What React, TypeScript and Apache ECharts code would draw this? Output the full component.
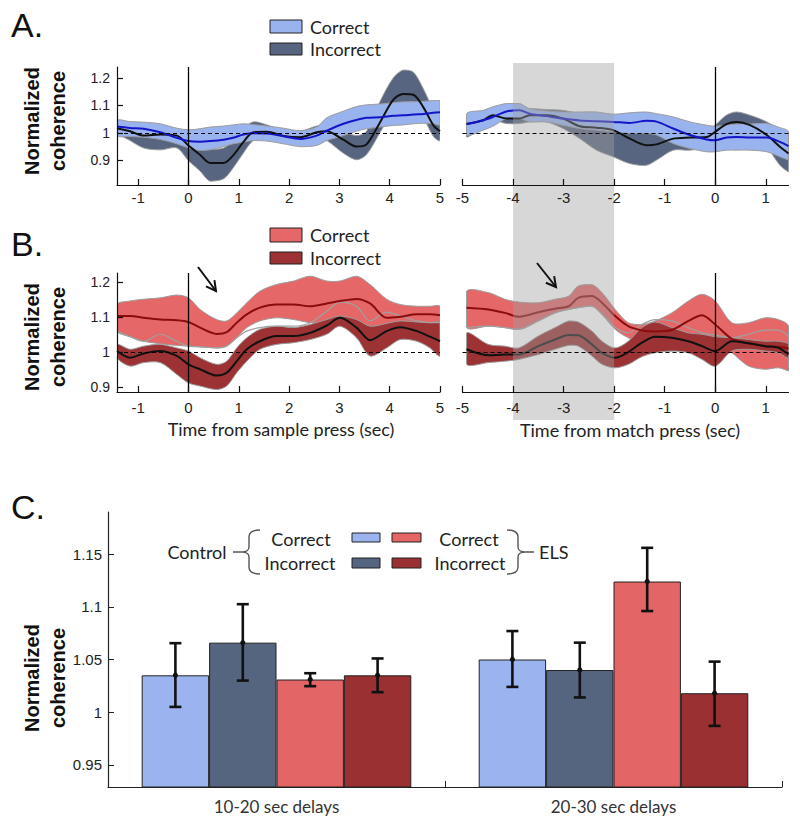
import React, { useEffect, useRef } from "react";
import * as echarts from "echarts";

// ---------- Panel A, left: time from sample press ----------
const aLeftX = [-1.42, -1.16, -0.89, -0.56, -0.23, 0, 0.23, 0.43, 0.7, 0.89, 1.09, 1.29, 1.56, 1.89, 2.22, 2.55, 2.75, 3.08, 3.34, 3.54, 3.81, 4.07, 4.27, 4.47, 4.67, 4.87, 5.0];
const aLeftCorrMean = [1.023, 1.018, 1.015, 1.002, 0.982, 0.97, 0.968, 0.97, 0.975, 0.982, 0.994, 0.999, 0.998, 0.988, 0.978, 0.99, 1.008, 1.033, 1.047, 1.055, 1.057, 1.062, 1.064, 1.067, 1.069, 1.073, 1.075];
const aLeftCorrHi = [1.045, 1.041, 1.039, 1.033, 1.017, 1.011, 1.015, 1.021, 1.025, 1.029, 1.033, 1.03, 1.025, 1.017, 1.008, 1.021, 1.055, 1.079, 1.096, 1.102, 1.105, 1.11, 1.113, 1.113, 1.115, 1.118, 1.118];
const aLeftCorrLo = [0.99, 0.987, 0.984, 0.976, 0.96, 0.945, 0.936, 0.938, 0.95, 0.96, 0.966, 0.972, 0.97, 0.96, 0.95, 0.954, 0.972, 0.99, 1.006, 1.015, 1.021, 1.027, 1.029, 1.033, 1.035, 1.033, 1.03];
const aLeftIncMean = [1.017, 1.006, 0.99, 0.994, 0.99, 0.954, 0.92, 0.89, 0.89, 0.918, 0.966, 1.002, 1.004, 0.989, 0.984, 1.002, 1.006, 0.975, 0.95, 0.958, 1.039, 1.12, 1.142, 1.139, 1.093, 1.027, 1.006];
const aLeftIncHi = [1.039, 1.033, 1.023, 1.015, 1.006, 0.99, 0.962, 0.942, 0.945, 0.972, 1.015, 1.04, 1.029, 1.008, 1.005, 1.025, 1.025, 1.006, 0.99, 1.006, 1.115, 1.2, 1.229, 1.221, 1.16, 1.081, 1.041];
const aLeftIncLo = [1.002, 0.972, 0.945, 0.938, 0.945, 0.899, 0.861, 0.824, 0.833, 0.873, 0.926, 0.972, 0.982, 0.972, 0.966, 0.982, 0.972, 0.926, 0.902, 0.921, 1.002, 1.081, 1.105, 1.112, 1.057, 0.987, 0.972];

// ---------- Panel A, right: time from match press ----------
const aRightX = [-4.92, -4.59, -4.4, -4.13, -3.87, -3.67, -3.34, -3.01, -2.68, -2.35, -2.02, -1.69, -1.36, -1.16, -0.83, -0.5, -0.17, 0, 0.22, 0.42, 0.69, 1.02, 1.28, 1.45];
const aRightCorrMean = [1.032, 1.046, 1.058, 1.078, 1.082, 1.07, 1.061, 1.052, 1.045, 1.042, 1.04, 1.036, 1.044, 1.041, 1.016, 0.992, 0.976, 0.973, 0.983, 0.985, 0.983, 0.983, 0.967, 0.952];
const aRightCorrHi = [1.07, 1.082, 1.095, 1.107, 1.107, 1.088, 1.08, 1.076, 1.076, 1.076, 1.068, 1.073, 1.076, 1.07, 1.058, 1.04, 1.028, 1.024, 1.028, 1.032, 1.032, 1.034, 1.019, 1.004];
const aRightCorrLo = [0.992, 1.01, 1.024, 1.052, 1.052, 1.04, 1.04, 1.028, 1.016, 1.01, 1.004, 0.998, 0.998, 0.992, 0.961, 0.943, 0.931, 0.931, 0.937, 0.937, 0.937, 0.931, 0.913, 0.901];
const aRightIncMean = [1.032, 1.046, 1.064, 1.052, 1.052, 1.064, 1.064, 1.052, 1.024, 1.019, 1.01, 0.979, 0.955, 0.958, 0.979, 0.983, 0.985, 1.004, 1.032, 1.04, 1.028, 0.992, 0.949, 0.925];
const aRightIncHi = [1.064, 1.07, 1.082, 1.076, 1.076, 1.088, 1.085, 1.082, 1.07, 1.064, 1.052, 1.028, 1.01, 1.004, 1.01, 1.004, 1.004, 1.028, 1.064, 1.076, 1.064, 1.04, 1.01, 0.998];
const aRightIncLo = [0.985, 1.028, 1.046, 1.034, 1.034, 1.04, 1.04, 1.016, 0.979, 0.937, 0.913, 0.888, 0.882, 0.901, 0.937, 0.937, 0.949, 0.979, 1.01, 1.016, 1.004, 0.949, 0.882, 0.858];

// ---------- Panel B, left ----------
const bLeftX = [-1.42, -1.16, -0.89, -0.56, -0.23, 0, 0.23, 0.56, 0.76, 0.96, 1.16, 1.42, 1.75, 2.09, 2.42, 2.75, 3.01, 3.34, 3.61, 3.94, 4.21, 4.54, 4.8, 5.0];
const bLeftCorrMean = [1.102, 1.102, 1.097, 1.092, 1.09, 1.085, 1.069, 1.051, 1.056, 1.083, 1.107, 1.126, 1.135, 1.135, 1.13, 1.138, 1.145, 1.151, 1.138, 1.097, 1.1, 1.107, 1.107, 1.104];
const bLeftCorrHi = [1.135, 1.145, 1.15, 1.154, 1.162, 1.154, 1.121, 1.092, 1.088, 1.111, 1.14, 1.173, 1.192, 1.202, 1.216, 1.202, 1.202, 1.216, 1.192, 1.15, 1.135, 1.13, 1.13, 1.13];
const bLeftCorrLo = [1.059, 1.043, 1.03, 1.023, 1.018, 1.016, 1.014, 1.011, 1.016, 1.04, 1.069, 1.088, 1.097, 1.092, 1.083, 1.083, 1.088, 1.083, 1.073, 1.059, 1.054, 1.059, 1.069, 1.078];
const bLeftIncMean = [1.002, 0.983, 0.995, 1.002, 0.988, 0.964, 0.95, 0.932, 0.94, 0.973, 1.007, 1.03, 1.045, 1.045, 1.054, 1.075, 1.097, 1.069, 1.033, 1.059, 1.07, 1.059, 1.043, 1.03];
const bLeftIncHi = [1.021, 1.007, 1.016, 1.021, 1.011, 1.002, 0.983, 0.964, 0.973, 1.011, 1.04, 1.064, 1.073, 1.069, 1.078, 1.092, 1.102, 1.092, 1.073, 1.081, 1.088, 1.085, 1.083, 1.083];
const bLeftIncLo = [0.983, 0.959, 0.969, 0.969, 0.935, 0.911, 0.902, 0.892, 0.902, 0.94, 0.973, 1.007, 1.021, 1.026, 1.035, 1.05, 1.073, 1.04, 0.988, 1.011, 1.035, 1.03, 1.011, 0.988];
const bLeftGray = [1.059, 1.043, 1.03, 1.05, 1.03, 1.016, 1.014, 1.011, 1.016, 1.04, 1.059, 1.069, 1.073, 1.073, 1.083, 1.116, 1.142, 1.13, 1.088, 1.113, 1.102, 1.088, 1.083, 1.083];

// ---------- Panel B, right ----------
const bRightX = [-4.92, -4.49, -4.16, -3.89, -3.5, -3.17, -2.9, -2.71, -2.44, -2.24, -1.98, -1.72, -1.45, -1.19, -0.86, -0.53, -0.26, 0, 0.33, 0.66, 0.99, 1.25, 1.45];
const bRightCorrMean = [1.126, 1.121, 1.111, 1.1, 1.113, 1.123, 1.13, 1.154, 1.159, 1.14, 1.102, 1.073, 1.061, 1.058, 1.062, 1.088, 1.104, 1.078, 1.037, 1.024, 1.016, 1.014, 1.009];
const bRightCorrHi = [1.173, 1.169, 1.15, 1.142, 1.14, 1.15, 1.159, 1.188, 1.192, 1.169, 1.121, 1.083, 1.078, 1.088, 1.111, 1.145, 1.164, 1.145, 1.083, 1.083, 1.097, 1.092, 1.073];
const bRightCorrLo = [1.069, 1.073, 1.069, 1.064, 1.088, 1.111, 1.121, 1.126, 1.13, 1.107, 1.064, 1.04, 1.026, 1.007, 1.002, 1.011, 1.026, 1.03, 0.997, 0.959, 0.95, 0.954, 0.945];
const bRightIncMean = [1.007, 0.99, 0.992, 0.992, 1.016, 1.035, 1.048, 1.047, 1.021, 0.997, 0.983, 0.999, 1.026, 1.043, 1.04, 1.03, 1.016, 1.002, 1.03, 1.024, 1.016, 1.011, 0.992];
const bRightIncHi = [1.054, 1.021, 1.016, 1.011, 1.045, 1.069, 1.088, 1.085, 1.059, 1.03, 1.011, 1.03, 1.069, 1.085, 1.069, 1.054, 1.05, 1.043, 1.04, 1.035, 1.03, 1.03, 1.021];
const bRightIncLo = [0.964, 0.969, 0.973, 0.978, 0.992, 1.007, 1.018, 1.016, 0.988, 0.964, 0.954, 0.964, 0.986, 0.997, 1.002, 0.997, 0.978, 0.959, 1.002, 1.007, 1.002, 0.997, 0.983];
const bRightGray = [1.069, 1.073, 1.069, 1.064, 1.088, 1.111, 1.121, 1.126, 1.13, 1.107, 1.069, 1.054, 1.078, 1.092, 1.088, 1.069, 1.054, 1.048, 1.04, 1.05, 1.062, 1.062, 1.045];

// ---------- Axes ticks ----------
const sampleTicks = [-1, 0, 1, 2, 3, 4, 5];
const matchTicks = [-5, -4, -3, -2, -1, 0, 1];
const lineYTicks = [0.9, 1, 1.1, 1.2];
const delayWindow = [-4, -2];

// ---------- Panel C ----------
const barCategories = ["10-20 sec delays", "20-30 sec delays"];
const ctrlCorrect = [1.035, 1.05];
const ctrlIncorrect = [1.066, 1.04];
const elsCorrect = [1.031, 1.124];
const elsIncorrect = [1.035, 1.018];
const ctrlCorrectErr = [[1.005, 1.0655], [1.024, 1.077]];
const ctrlIncorrectErr = [[1.03, 1.1025], [1.014, 1.066]];
const elsCorrectErr = [[1.0247, 1.037], [1.096, 1.156]];
const elsIncorrectErr = [[1.019, 1.051], [0.987, 1.048]];
const barYTicks = [0.95, 1, 1.05, 1.1, 1.15];

// ---------- colours ----------
const C_LBLUE = "#98B3EE";
const C_SLATE = "#586580";
const C_RED = "#E66767";
const C_DRED = "#9C3234";
const BAR_LBLUE = "#9BB3EF";
const BAR_SLATE = "#56657F";
const BAR_RED = "#E46565";
const BAR_DRED = "#9B3032";

const SANS = '"Liberation Sans", Arial, sans-serif';
const CAL = 'Lato, "Open Sans", sans-serif';

const braceLeftPath = "M27,0 C20,0 16,2 16,7 L16,17 C16,20 13,22 9,22 C13,22 16,24 16,27 L16,37 C16,42 20,44 27,44 M9,22 L0,22";
const braceRightPath = "M0,0 C7,0 11,2 11,7 L11,17 C11,20 14,22 18,22 C14,22 11,24 11,27 L11,37 C11,42 7,44 0,44 M18,22 L27,22";
echarts.graphic.registerShape("braceL", echarts.graphic.extendPath(braceLeftPath, {}));
echarts.graphic.registerShape("braceR", echarts.graphic.extendPath(braceRightPath, {}));

function bandSeries(idx: number, xs: number[], lo: number[], hi: number[], fill: string, z: number) {
  return {
    type: "custom",
    xAxisIndex: idx,
    yAxisIndex: idx,
    clip: true,
    silent: true,
    z,
    data: xs.map((x, i) => [x, lo[i], hi[i]]),
    encode: { x: 0, y: [1, 2] },
    renderItem: (params: any, api: any) => {
      if (params.dataIndex !== 0) return null;
      const top = xs.map((x, i) => api.coord([x, hi[i]]));
      const bot = xs.map((x, i) => api.coord([x, lo[i]])).reverse();
      const pts = top.concat(bot);
      let x0 = Infinity, y0 = Infinity, x1 = -Infinity, y1 = -Infinity;
      pts.forEach((p: number[]) => {
        x0 = Math.min(x0, p[0]); x1 = Math.max(x1, p[0]);
        y0 = Math.min(y0, p[1]); y1 = Math.max(y1, p[1]);
      });
      return {
        type: "polygon",
        shape: { points: pts, smooth: 0.3, smoothConstraint: [[x0, y0], [x1, y1]] },
        style: { fill, stroke: "#9c9c9c", lineWidth: 1 },
      };
    },
  };
}

function meanLine(idx: number, xs: number[], ys: number[], color: string, width: number, z: number, extra: any = {}) {
  return {
    type: "line",
    xAxisIndex: idx,
    yAxisIndex: idx,
    data: xs.map((x, i) => [x, ys[i]]),
    smooth: 0.3,
    symbol: "none",
    silent: true,
    lineStyle: { color, width },
    z,
    ...extra,
  };
}

const refLines = {
  silent: true,
  symbol: ["none", "none"],
  label: { show: false },
  data: [
    { xAxis: 0, lineStyle: { color: "#000", width: 1.3, type: "solid" } },
    { yAxis: 1, lineStyle: { color: "#000", width: 1.2, type: [4, 3] } },
  ],
};

function xAxisLine(gi: number, min: number, max: number, ticks: number[], margin: number) {
  return {
    type: "value",
    gridIndex: gi,
    min,
    max,
    z: 5,
    axisLine: { show: true, onZero: false, lineStyle: { color: "#111", width: 1.2 } },
    axisTick: { show: true, inside: true, length: 6, customValues: ticks, lineStyle: { color: "#111", width: 1.2 } },
    axisLabel: { show: true, customValues: ticks, margin, fontSize: 15, fontFamily: SANS, color: "#222" },
    splitLine: { show: false },
  };
}

function yAxisLine(gi: number, min: number, max: number, show: boolean) {
  return {
    type: "value",
    gridIndex: gi,
    min,
    max,
    show,
    z: 5,
    axisLine: { show: true, onZero: false, lineStyle: { color: "#111", width: 1.2 } },
    axisTick: { show: true, inside: true, length: 6, customValues: lineYTicks, lineStyle: { color: "#111", width: 1.2 } },
    axisLabel: { show: true, customValues: lineYTicks, margin: 7, fontSize: 14, fontFamily: SANS, color: "#222" },
    splitLine: { show: false },
  };
}

function arrow(x1: number, y1: number, x2: number, y2: number) {
  const dx = x2 - x1, dy = y2 - y1, L = Math.hypot(dx, dy);
  const ux = dx / L, uy = dy / L, h = 11, a = 0.5, c = Math.cos(a), s = Math.sin(a);
  const p1 = [x2 - h * (ux * c - uy * s), y2 - h * (uy * c + ux * s)];
  const p2 = [x2 - h * (ux * c + uy * s), y2 - h * (uy * c - ux * s)];
  return [
    { type: "line", shape: { x1, y1, x2, y2 }, style: { stroke: "#111", lineWidth: 2 }, z: 6 },
    { type: "polyline", shape: { points: [p1, [x2, y2], p2] }, style: { stroke: "#111", lineWidth: 2, fill: null }, z: 6 },
  ];
}

function legendItem(x: number, y: number, h: number, fill: string, label: string) {
  return [
    { type: "rect", shape: { x, y, width: 32, height: h }, style: { fill, stroke: "#222", lineWidth: 1 } },
    { type: "text", x: x + 40, y: y + h / 2, style: { text: label, font: `18px ${CAL}`, fill: "#222", verticalAlign: "middle", align: "left" } },
  ];
}

function txt(text: string, x: number, y: number, font: string, align = "center") {
  return { type: "text", x, y, style: { text, font, fill: "#222", align, verticalAlign: "middle" } };
}

export default function App() {
  const ref = useRef<HTMLDivElement>(null);
  useEffect(() => {
    if (!ref.current) return;
    const chart = echarts.init(ref.current, undefined, { renderer: "svg" });
    const errItems: any[] = [];
    [ctrlCorrectErr, ctrlIncorrectErr, elsCorrectErr, elsIncorrectErr].forEach((arr, k) => {
      const means = [ctrlCorrect, ctrlIncorrect, elsCorrect, elsIncorrect][k];
      arr.forEach((e, ci) => errItems.push([ci, e[0], e[1], means[ci], k]));
    });

    const option: any = {
      animation: false,
      grid: [
        { left: 117, top: 67, width: 323, height: 118 },
        { left: 462.5, top: 67, width: 326, height: 118 },
        { left: 117, top: 273, width: 323, height: 119 },
        { left: 462.5, top: 273, width: 326, height: 119 },
        { left: 108, top: 512, width: 674, height: 275 },
      ],
      xAxis: [
        xAxisLine(0, -1.42, 5, sampleTicks, 5),
        xAxisLine(1, -5, 1.45, matchTicks, 5),
        xAxisLine(2, -1.42, 5, sampleTicks, 8),
        xAxisLine(3, -5, 1.45, matchTicks, 8),
        {
          type: "category",
          gridIndex: 4,
          data: barCategories,
          boundaryGap: true,
          z: 5,
          axisLine: { show: true, lineStyle: { color: "#222", width: 1.2 } },
          axisTick: { show: true, inside: true, length: 6, alignWithLabel: false, lineStyle: { color: "#222" } },
          axisLabel: { margin: 11, fontSize: 17, fontFamily: CAL, color: "#333" },
        },
      ],
      yAxis: [
        yAxisLine(0, 0.81, 1.24, true),
        yAxisLine(1, 0.81, 1.24, false),
        yAxisLine(2, 0.885, 1.225, true),
        yAxisLine(3, 0.885, 1.225, false),
        {
          type: "value",
          gridIndex: 4,
          min: 0.929,
          max: 1.19,
          z: 5,
          axisLine: { show: true, onZero: false, lineStyle: { color: "#222", width: 1.2 } },
          axisTick: { show: true, inside: true, length: 6, customValues: barYTicks, lineStyle: { color: "#222" } },
          axisLabel: { customValues: barYTicks, margin: 6, fontSize: 15, fontFamily: SANS, color: "#222" },
          splitLine: { show: false },
        },
      ],
      series: [
        // A left
        bandSeries(0, aLeftX, aLeftIncLo, aLeftIncHi, C_SLATE, 1),
        bandSeries(0, aLeftX, aLeftCorrLo, aLeftCorrHi, C_LBLUE, 2),
        meanLine(0, aLeftX, aLeftIncMean, "#111", 2, 3),
        meanLine(0, aLeftX, aLeftCorrMean, "#1515C8", 2, 3.5, { markLine: refLines }),
        // A right
        bandSeries(1, aRightX, aRightIncLo, aRightIncHi, C_SLATE, 1),
        bandSeries(1, aRightX, aRightCorrLo, aRightCorrHi, C_LBLUE, 2),
        meanLine(1, aRightX, aRightIncMean, "#111", 2, 3),
        meanLine(1, aRightX, aRightCorrMean, "#1515C8", 2, 3.5, { markLine: refLines }),
        // B left
        bandSeries(2, bLeftX, bLeftCorrLo, bLeftCorrHi, C_RED, 1),
        bandSeries(2, bLeftX, bLeftIncLo, bLeftIncHi, C_DRED, 2),
        meanLine(2, bLeftX, bLeftGray, "#a0a0a0", 1.2, 2.5),
        meanLine(2, bLeftX, bLeftCorrMean, "#8A0C0C", 2, 3),
        meanLine(2, bLeftX, bLeftIncMean, "#111", 2, 3.5, { markLine: refLines }),
        // B right
        bandSeries(3, bRightX, bRightCorrLo, bRightCorrHi, C_RED, 1),
        bandSeries(3, bRightX, bRightIncLo, bRightIncHi, C_DRED, 2),
        meanLine(3, bRightX, bRightGray, "#a0a0a0", 1.2, 2.5),
        meanLine(3, bRightX, bRightCorrMean, "#8A0C0C", 2, 3),
        meanLine(3, bRightX, bRightIncMean, "#111", 2, 3.5, { markLine: refLines }),
        // C bars
        ...[
          ["Control Correct", ctrlCorrect, BAR_LBLUE],
          ["Control Incorrect", ctrlIncorrect, BAR_SLATE],
          ["ELS Correct", elsCorrect, BAR_RED],
          ["ELS Incorrect", elsIncorrect, BAR_DRED],
        ].map(([name, data, color]: any) => ({
          type: "bar",
          name,
          xAxisIndex: 4,
          yAxisIndex: 4,
          data,
          barGap: "0%",
          barCategoryGap: "20%",
          silent: true,
          itemStyle: { color, borderColor: "#222", borderWidth: 1 },
          z: 2,
        })),
        {
          type: "custom",
          name: "error",
          xAxisIndex: 4,
          yAxisIndex: 4,
          silent: true,
          z: 4,
          data: errItems,
          encode: { x: 0, y: [1, 2] },
          renderItem: (params: any, api: any) => {
            const cat = api.value(0), lo = api.value(1), hi = api.value(2), mean = api.value(3), k = api.value(4);
            const bw = api.size([1, 0])[0];
            const c = api.coord([cat, mean]);
            const x = c[0] + bw * (-0.3 + 0.2 * k);
            const yH = api.coord([cat, hi])[1];
            const yL = api.coord([cat, lo])[1];
            const st = { stroke: "#111", lineWidth: 2.6 };
            const cap = 6;
            return {
              type: "group",
              children: [
                { type: "line", shape: { x1: x, y1: yH, x2: x, y2: yL }, style: st },
                { type: "line", shape: { x1: x - cap, y1: yH, x2: x + cap, y2: yH }, style: st },
                { type: "line", shape: { x1: x - cap, y1: yL, x2: x + cap, y2: yL }, style: st },
                { type: "circle", shape: { cx: x, cy: c[1], r: 2.6 }, style: { fill: "#111" } },
              ],
            };
          },
        },
      ],
    };
    chart.setOption(option);

    const gx1 = chart.convertToPixel({ xAxisIndex: 1 } as any, delayWindow[0]) as number;
    const gx2 = chart.convertToPixel({ xAxisIndex: 1 } as any, delayWindow[1]) as number;

    const ylabel = (cy: number) => ({
      type: "text",
      x: 45,
      y: cy,
      rotation: Math.PI / 2,
      style: { text: "Normalized\ncoherence", font: `bold 20px ${SANS}`, fill: "#111", align: "center", verticalAlign: "middle", lineHeight: 26 },
    });
    const panelLetter = (t: string, y: number) => ({
      type: "text",
      x: 11,
      y,
      style: { text: t, font: `34px ${SANS}`, fill: "#111", align: "left", verticalAlign: "middle" },
    });

    const graphics: any[] = [
      { type: "rect", shape: { x: gx1, y: 63, width: gx2 - gx1, height: 357 }, style: { fill: "rgba(160,160,160,0.42)" }, z: 4, silent: true },
      panelLetter("A.", 25),
      panelLetter("B.", 244),
      panelLetter("C.", 507),
      ...legendItem(270, 20, 13, C_LBLUE, "Correct"),
      ...legendItem(270, 43, 12, C_SLATE, "Incorrect"),
      ...legendItem(270, 228, 14, C_RED, "Correct"),
      ...legendItem(270, 252, 12, C_DRED, "Incorrect"),
      ylabel(121),
      ylabel(337),
      ylabel(678),
      txt("Time from sample press (sec)", 281, 429, `18px ${CAL}`),
      txt("Time from match press (sec)", 630, 430, `18px ${CAL}`),
      ...arrow(198, 267, 216, 291),
      ...arrow(537, 263, 556, 287),
      // Panel C legend
      txt("Control", 197, 552, `18px ${CAL}`),
      { type: "braceL", x: 233, y: 530, style: { stroke: "#555", fill: "none", lineWidth: 1.4 } },
      txt("Correct", 301, 539, `18px ${CAL}`),
      txt("Incorrect", 300, 563, `18px ${CAL}`),
      { type: "rect", shape: { x: 352, y: 533, width: 28, height: 9 }, style: { fill: BAR_LBLUE, stroke: "#222", lineWidth: 1 } },
      { type: "rect", shape: { x: 392, y: 533, width: 29, height: 9 }, style: { fill: BAR_RED, stroke: "#222", lineWidth: 1 } },
      { type: "rect", shape: { x: 352, y: 558, width: 28, height: 10 }, style: { fill: BAR_SLATE, stroke: "#222", lineWidth: 1 } },
      { type: "rect", shape: { x: 392, y: 558, width: 29, height: 10 }, style: { fill: BAR_DRED, stroke: "#222", lineWidth: 1 } },
      txt("Correct", 469, 539, `18px ${CAL}`),
      txt("Incorrect", 470, 563, `18px ${CAL}`),
      { type: "braceR", x: 507, y: 530, style: { stroke: "#555", fill: "none", lineWidth: 1.4 } },
      txt("ELS", 539, 552, `18px ${CAL}`, "left"),
    ];
    chart.setOption({ graphic: graphics });

    return () => chart.dispose();
  }, []);

  return (
    <div
      ref={ref}
      style={{ position: "fixed", left: 0, top: 0, width: 800, height: 826, background: "#fff" }}
    />
  );
}
